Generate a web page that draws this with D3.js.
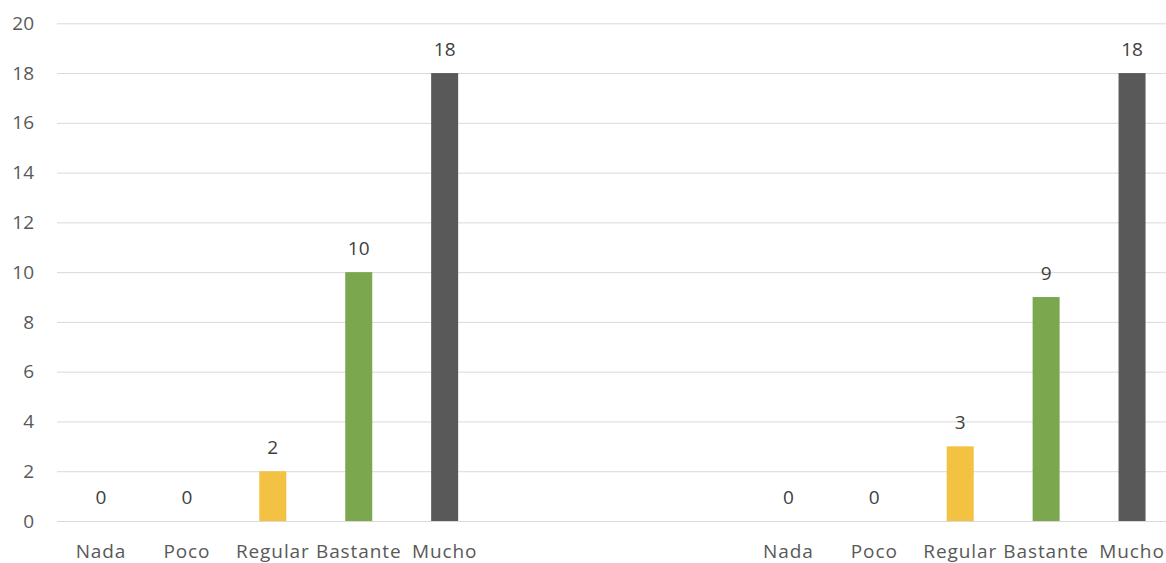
<!DOCTYPE html>
<html><head><meta charset="utf-8">
<script src="https://cdn.jsdelivr.net/npm/d3@7"></script>
<style>html,body{margin:0;padding:0;background:#fff;overflow:hidden}</style>
</head><body><svg id="c" width="1166" height="563"></svg>
<script>
const categories = ["Nada", "Poco", "Regular", "Bastante", "Mucho"];
const valuesLeft = [0, 0, 2, 10, 18];
const valuesRight = [0, 0, 3, 9, 18];
const gapSlots = ["gap1", "gap2", "gap3"];
const barColors = ["#F4C242", "#F4C242", "#F4C242", "#7BA84F", "#595959"];
const yTicks = [0, 2, 4, 6, 8, 10, 12, 14, 16, 18, 20];

const rows = [];
categories.forEach((c, i) => rows.push({key: "L-" + c, label: c, value: valuesLeft[i], color: barColors[i]}));
gapSlots.forEach(g => rows.push({key: g, label: "", value: null}));
categories.forEach((c, i) => rows.push({key: "R-" + c, label: c, value: valuesRight[i], color: barColors[i]}));

const svg = d3.select("#c");
const font = "'Open Sans', sans-serif";
const x = d3.scaleBand().domain(rows.map(d => d.key)).range([58, 1175]).padding(0);
const y = d3.scaleLinear().domain([0, 20]).range([521, 23.3]);

// gridlines
const yAxis = d3.axisLeft(y).tickValues(yTicks).tickSize(-(1166 - 57)).tickPadding(23);
const gy = svg.append("g").attr("transform", "translate(57,0)").call(yAxis);
gy.select(".domain").remove();
gy.selectAll(".tick line").attr("stroke", "#d9d9d9").attr("stroke-width", 1);
gy.selectAll(".tick text").attr("fill", "#595959").attr("font-size", 19).attr("font-family", font);

const bw = 27;
const data = rows.filter(d => d.value !== null);
svg.append("g").selectAll("rect").data(data).join("rect")
  .attr("x", d => x(d.key) + x.bandwidth() / 2 - bw / 2)
  .attr("y", d => y(d.value))
  .attr("width", bw)
  .attr("height", d => y(0) - y(d.value))
  .attr("fill", d => d.color);

svg.append("g").selectAll("text").data(data).join("text")
  .attr("x", d => x(d.key) + x.bandwidth() / 2)
  .attr("y", d => y(d.value) - 17)
  .attr("text-anchor", "middle")
  .attr("fill", "#404040")
  .attr("font-size", 19)
  .attr("font-family", font)
  .text(d => d.value);

// x axis labels
const xAxis = d3.axisBottom(x).tickSize(0).tickPadding(24).tickFormat(k => rows.find(r => r.key === k).label);
const gx = svg.append("g").attr("transform", "translate(0,521)").call(xAxis);
gx.select(".domain").remove();
gx.selectAll(".tick text").attr("fill", "#595959").attr("font-size", 19).attr("font-family", font).attr("letter-spacing", "0.9px");
</script></body></html>
